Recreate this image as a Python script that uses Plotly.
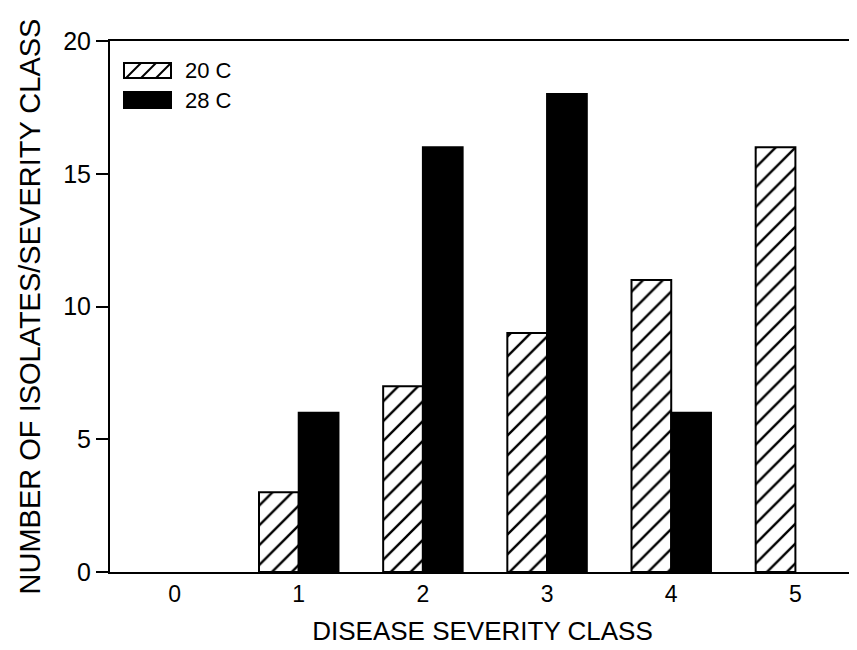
import plotly.graph_objects as go

# ---- data ----
classes = ["0", "1", "2", "3", "4", "5"]
isolates_20C = [0, 3, 7, 9, 11, 16]
isolates_28C = [0, 6, 16, 18, 6, 0]
y_ticks = [0, 5, 10, 15, 20]
series_names = ["20 C", "28 C"]

# page has an 8px body margin, so the figure is drawn offset by (8, 8)
OFF = 8
W, H = 857 - OFF, 650 - OFF
L, R, T, B = 110 - OFF, 2, 41 - OFF, 78
pw, ph = W - L - R, H - T - B


def px(x):  # page pixel -> paper
    return (x - OFF - L) / pw


def py(y):
    return (H - B - (y - OFF)) / ph


FONT = "Liberation Sans, Arial, Helvetica, sans-serif"

fig = go.Figure()
fig.add_trace(go.Bar(
    x=classes, y=isolates_20C, name=series_names[0], showlegend=False,
    marker=dict(color="white",
                line=dict(color="black", width=[0 if v == 0 else 2 for v in isolates_20C]),
                pattern=dict(shape="/", fgcolor="black", bgcolor="white",
                             fgopacity=1, size=14, solidity=0.17)),
))
fig.add_trace(go.Bar(
    x=classes, y=isolates_28C, name=series_names[1], showlegend=False,
    marker=dict(color="black",
                line=dict(color="black", width=[0 if v == 0 else 2 for v in isolates_28C])),
))

# manual legend (large swatches as in the original)
shapes = []
sx0, sx1 = 124, 171
shapes.append(dict(type="rect", xref="paper", yref="paper",
                   x0=px(sx0), x1=px(sx1), y0=py(78), y1=py(63),
                   line=dict(color="black", width=2), fillcolor="white"))
for xs in [126, 141, 156]:
    shapes.append(dict(type="line", xref="paper", yref="paper",
                       x0=px(xs), y0=py(78), x1=px(xs + 15), y1=py(63),
                       line=dict(color="black", width=2)))
shapes.append(dict(type="rect", xref="paper", yref="paper",
                   x0=px(sx0), x1=px(sx1), y0=py(108), y1=py(92),
                   line=dict(color="black", width=2), fillcolor="black"))

annotations = [
    dict(text=series_names[0], xref="paper", yref="paper", x=px(183), y=py(70),
         xanchor="left", yanchor="middle", showarrow=False,
         font=dict(family=FONT, size=22, color="black")),
    dict(text=series_names[1], xref="paper", yref="paper", x=px(183), y=py(100),
         xanchor="left", yanchor="middle", showarrow=False,
         font=dict(family=FONT, size=22, color="black")),
]

fig.update_layout(
    width=W, height=H,
    margin=dict(l=L, r=R, t=T, b=B, autoexpand=False),
    paper_bgcolor="white", plot_bgcolor="white",
    barmode="group", bargap=0.36, bargroupgap=0,
    font=dict(family=FONT, color="black"),
    shapes=shapes, annotations=annotations,
    xaxis=dict(
        type="category", range=[-0.52, 5.48], automargin=False,
        showline=True, linecolor="black", linewidth=2, mirror=True,
        ticks="", showgrid=False, zeroline=False,
        tickfont=dict(family=FONT, size=23, color="black"),
        title=dict(text="DISEASE SEVERITY CLASS", standoff=16,
                   font=dict(family=FONT, size=26, color="black")),
    ),
    yaxis=dict(
        range=[0, 20], tickvals=y_ticks, ticktext=[str(v) for v in y_ticks],
        automargin=False,
        ticks="outside", ticklen=12, tickwidth=2, tickcolor="black",
        showline=True, linecolor="black", linewidth=2,
        showgrid=False, zeroline=False,
        tickfont=dict(family=FONT, size=25, color="black"),
        title=dict(text="NUMBER OF ISOLATES/SEVERITY CLASS", standoff=14,
                   font=dict(family=FONT, size=29, color="black")),
    ),
    yaxis2=dict(
        overlaying="y", side="right", range=[0, 20], tickvals=y_ticks[1:-1],
        automargin=False,
        ticks="inside", ticklen=12, tickwidth=2, tickcolor="black",
        showticklabels=False, showline=True, linecolor="black", linewidth=2,
        showgrid=False, zeroline=False,
    ),
)

fig.write_html("out.html")
